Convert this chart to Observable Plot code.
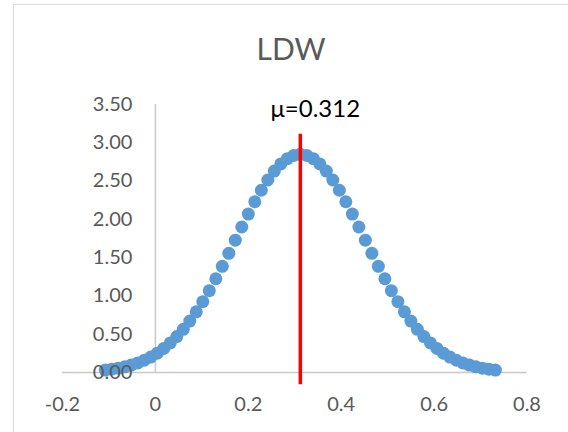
<!DOCTYPE html>
<html>
<head>
<meta charset="utf-8">
<script src="https://cdn.jsdelivr.net/npm/d3@7"></script>
<script src="https://cdn.jsdelivr.net/npm/@observablehq/plot@0.6"></script>
<style>
  body { margin: 0; background: #fff; }
  #wrap { position: relative; width: 568px; height: 432px; overflow: hidden; background: #fff; }
  #frame { position: absolute; left: 13px; top: 4px; width: 620px; height: 520px; border: 1.5px solid #d9d9d9; box-sizing: border-box; }
  #title { position: absolute; top: 33px; left: 0; width: 582px; text-align: center; font-family: Lato, sans-serif; font-size: 30px; line-height: 30px; color: #595959; }
  #plot { position: absolute; left: 0; top: 80px; }
</style>
</head>
<body>
<div id="wrap">
  <div id="frame"></div>
  <div id="title">LDW</div>
  <div id="plot"></div>
</div>
<script>
const titleText = "LDW";
const mu = 0.312;
const muLabel = "μ=0.312";
const muLineY = [-0.16, 3.11];

const xValues = [
  -0.108, -0.094, -0.080, -0.066, -0.052, -0.038, -0.024, -0.010, 0.004, 0.018,
  0.032, 0.046, 0.060, 0.074, 0.088, 0.102, 0.116, 0.130, 0.144, 0.158,
  0.172, 0.186, 0.200, 0.214, 0.228, 0.242, 0.256, 0.270, 0.284, 0.298,
  0.312,
  0.326, 0.340, 0.354, 0.368, 0.382, 0.396, 0.410, 0.424, 0.438, 0.452,
  0.466, 0.480, 0.494, 0.508, 0.522, 0.536, 0.550, 0.564, 0.578, 0.592,
  0.606, 0.620, 0.634, 0.648, 0.662, 0.676, 0.690, 0.704, 0.718, 0.732
];
const yValues = [
  0.032, 0.043, 0.057, 0.074, 0.097, 0.125, 0.160, 0.202, 0.253, 0.314,
  0.386, 0.469, 0.564, 0.672, 0.792, 0.925, 1.069, 1.224, 1.387, 1.556,
  1.728, 1.900, 2.069, 2.230, 2.380, 2.514, 2.630, 2.724, 2.793, 2.835,
  2.849,
  2.835, 2.793, 2.724, 2.630, 2.514, 2.380, 2.230, 2.069, 1.900, 1.728,
  1.556, 1.387, 1.224, 1.069, 0.925, 0.792, 0.672, 0.564, 0.469, 0.386,
  0.314, 0.253, 0.202, 0.160, 0.125, 0.097, 0.074, 0.057, 0.043, 0.032
];

const yTicks = [0, 0.5, 1, 1.5, 2, 2.5, 3, 3.5];
const yTickLabels = ["0.00", "0.50", "1.00", "1.50", "2.00", "2.50", "3.00", "3.50"];
const xTicks = [-0.2, 0, 0.2, 0.4, 0.6, 0.8];
const xTickLabels = ["-0.2", "0", "0.2", "0.4", "0.6", "0.8"];

const points = xValues.map((x, i) => ({x, y: yValues[i]}));
const yTickData = yTicks.map((v, i) => ({v, label: yTickLabels[i]}));
const xTickData = xTicks.map((v, i) => ({v, label: xTickLabels[i]}));

document.getElementById("title").textContent = titleText;

const chart = Plot.plot({
  width: 568,
  height: 352,
  marginLeft: 62,
  marginRight: 41.5,
  marginTop: 24,
  marginBottom: 60,
  x: {domain: [-0.2, 0.8], axis: null},
  y: {domain: [0, 3.5], axis: null},
  style: {fontFamily: "Lato, sans-serif", background: "transparent"},
  marks: [
    Plot.ruleY([0], {stroke: "#c8c8c8", strokeWidth: 1.5}),
    Plot.ruleX([0], {stroke: "#c8c8c8", strokeWidth: 1.5}),
    Plot.dot(points, {x: "x", y: "y", r: 6.5, fill: "#5B9BD5", stroke: "none"}),
    Plot.ruleX([mu], {y1: muLineY[0], y2: muLineY[1], stroke: "#ff0000", strokeWidth: 3.5}),
    Plot.text(yTickData, {x: 0, y: "v", text: "label", dx: -23, textAnchor: "end", lineAnchor: "middle", fontSize: 20, fill: "#595959"}),
    Plot.text(xTickData, {x: "v", y: 0, text: "label", dy: 32, textAnchor: "middle", lineAnchor: "middle", fontSize: 20, fill: "#595959"}),
    Plot.text([muLabel], {x: mu, y: 3.5, text: d => d, dx: 15, dy: 5, textAnchor: "middle", lineAnchor: "middle", fontSize: 24, fill: "#000000"})
  ]
});
document.getElementById("plot").appendChild(chart);
</script>
</body>
</html>
